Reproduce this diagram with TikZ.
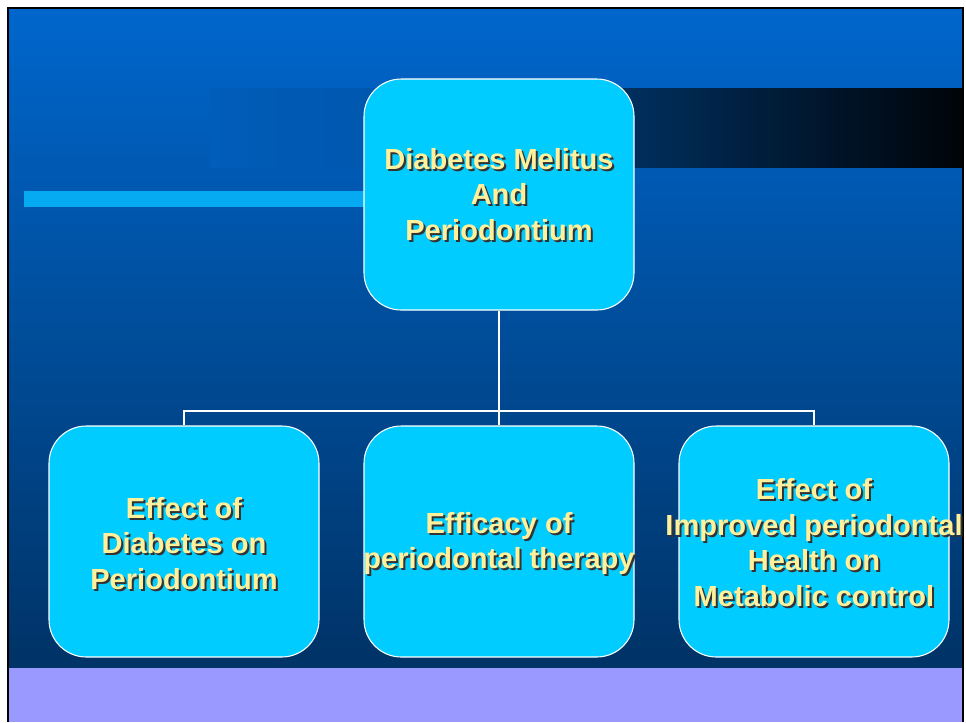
\documentclass[tikz,border=0pt]{standalone}
\usepackage{fontspec}
\setmainfont{Liberation Sans}
\definecolor{boxfill}{HTML}{00CCFF}
\definecolor{txtcol}{HTML}{FFF09C}
\definecolor{bgtop}{HTML}{0066CC}
\definecolor{bgbot}{HTML}{003366}
\definecolor{lav}{HTML}{9999FF}
\definecolor{stripcol}{HTML}{05AAF2}
\begin{document}
\begin{tikzpicture}[x=0.75pt,y=-0.75pt,
  box/.style={draw=white, line width=0.8pt, fill=boxfill, rounded corners=28pt,
    minimum width=202.5pt, minimum height=173.25pt, inner sep=0pt},
  lbl/.style={font=\fontsize{21.8}{26.6}\selectfont\bfseries, align=center,
    text=txtcol, inner sep=0pt},
  shd/.style={lbl, text=black!80},
  conn/.style={draw=white, line width=1.6pt}]
\useasboundingbox (0,0) rectangle (966,722);
\fill[white] (0,0) rectangle (966,722);
% slide background
\shade[top color=bgtop, bottom color=bgbot] (9,9) rectangle (962,668);
% dark band (fading in from the left)
\shade[left color=bgtop!82!bgbot, right color=bgtop!62!bgbot] (210,88) rectangle (500,167);
\shade[left color=bgtop!62!black, right color=black!92!bgbot] (500,88) rectangle (962,167);
% checkered strip
\fill[stripcol] (24,191) rectangle (364,207);
% lavender band
\fill[lav] (9,668) rectangle (962,722);
% frame
\draw[black, line width=1.5pt] (8,722) -- (8,8) -- (963,8) -- (963,722);

% boxes
\node[box] (top) at (499,194.5) {};
\node[box] (b1) at (184,541.5) {};
\node[box] (b2) at (499,541.5) {};
\node[box] (b3) at (814,541.5) {};

% connectors
\coordinate (j) at (499,411);
\draw[conn] (top.south) -- (j);
\draw[conn] (b1.north) |- (j) -| (b3.north);
\draw[conn] (j) -- (b2.north);

% labels
\node[shd] (ts) at ([shift={(2,2)}]top.center) {Diabetes Melitus\\And\\Periodontium};
\node[lbl] (tt) at (top.center) {Diabetes Melitus\\And\\Periodontium};
\node[shd] (s1) at ([shift={(2,4)}]b1.center) {Effect of\\Diabetes on\\Periodontium};
\node[lbl] (t1) at ([shift={(0,2)}]b1.center) {Effect of\\Diabetes on\\Periodontium};
\node[shd] (s2) at ([shift={(2,4)}]b2.center) {Efficacy of\\periodontal therapy};
\node[lbl] (t2) at ([shift={(0,2)}]b2.center) {Efficacy of\\periodontal therapy};
\node[shd] (s3) at ([shift={(2,3)}]b3.center) {Effect of\\Improved periodontal\\Health on\\Metabolic control};
\node[lbl] (t3) at ([shift={(0,1)}]b3.center) {Effect of\\Improved periodontal\\Health on\\Metabolic control};
\end{tikzpicture}
\end{document}
